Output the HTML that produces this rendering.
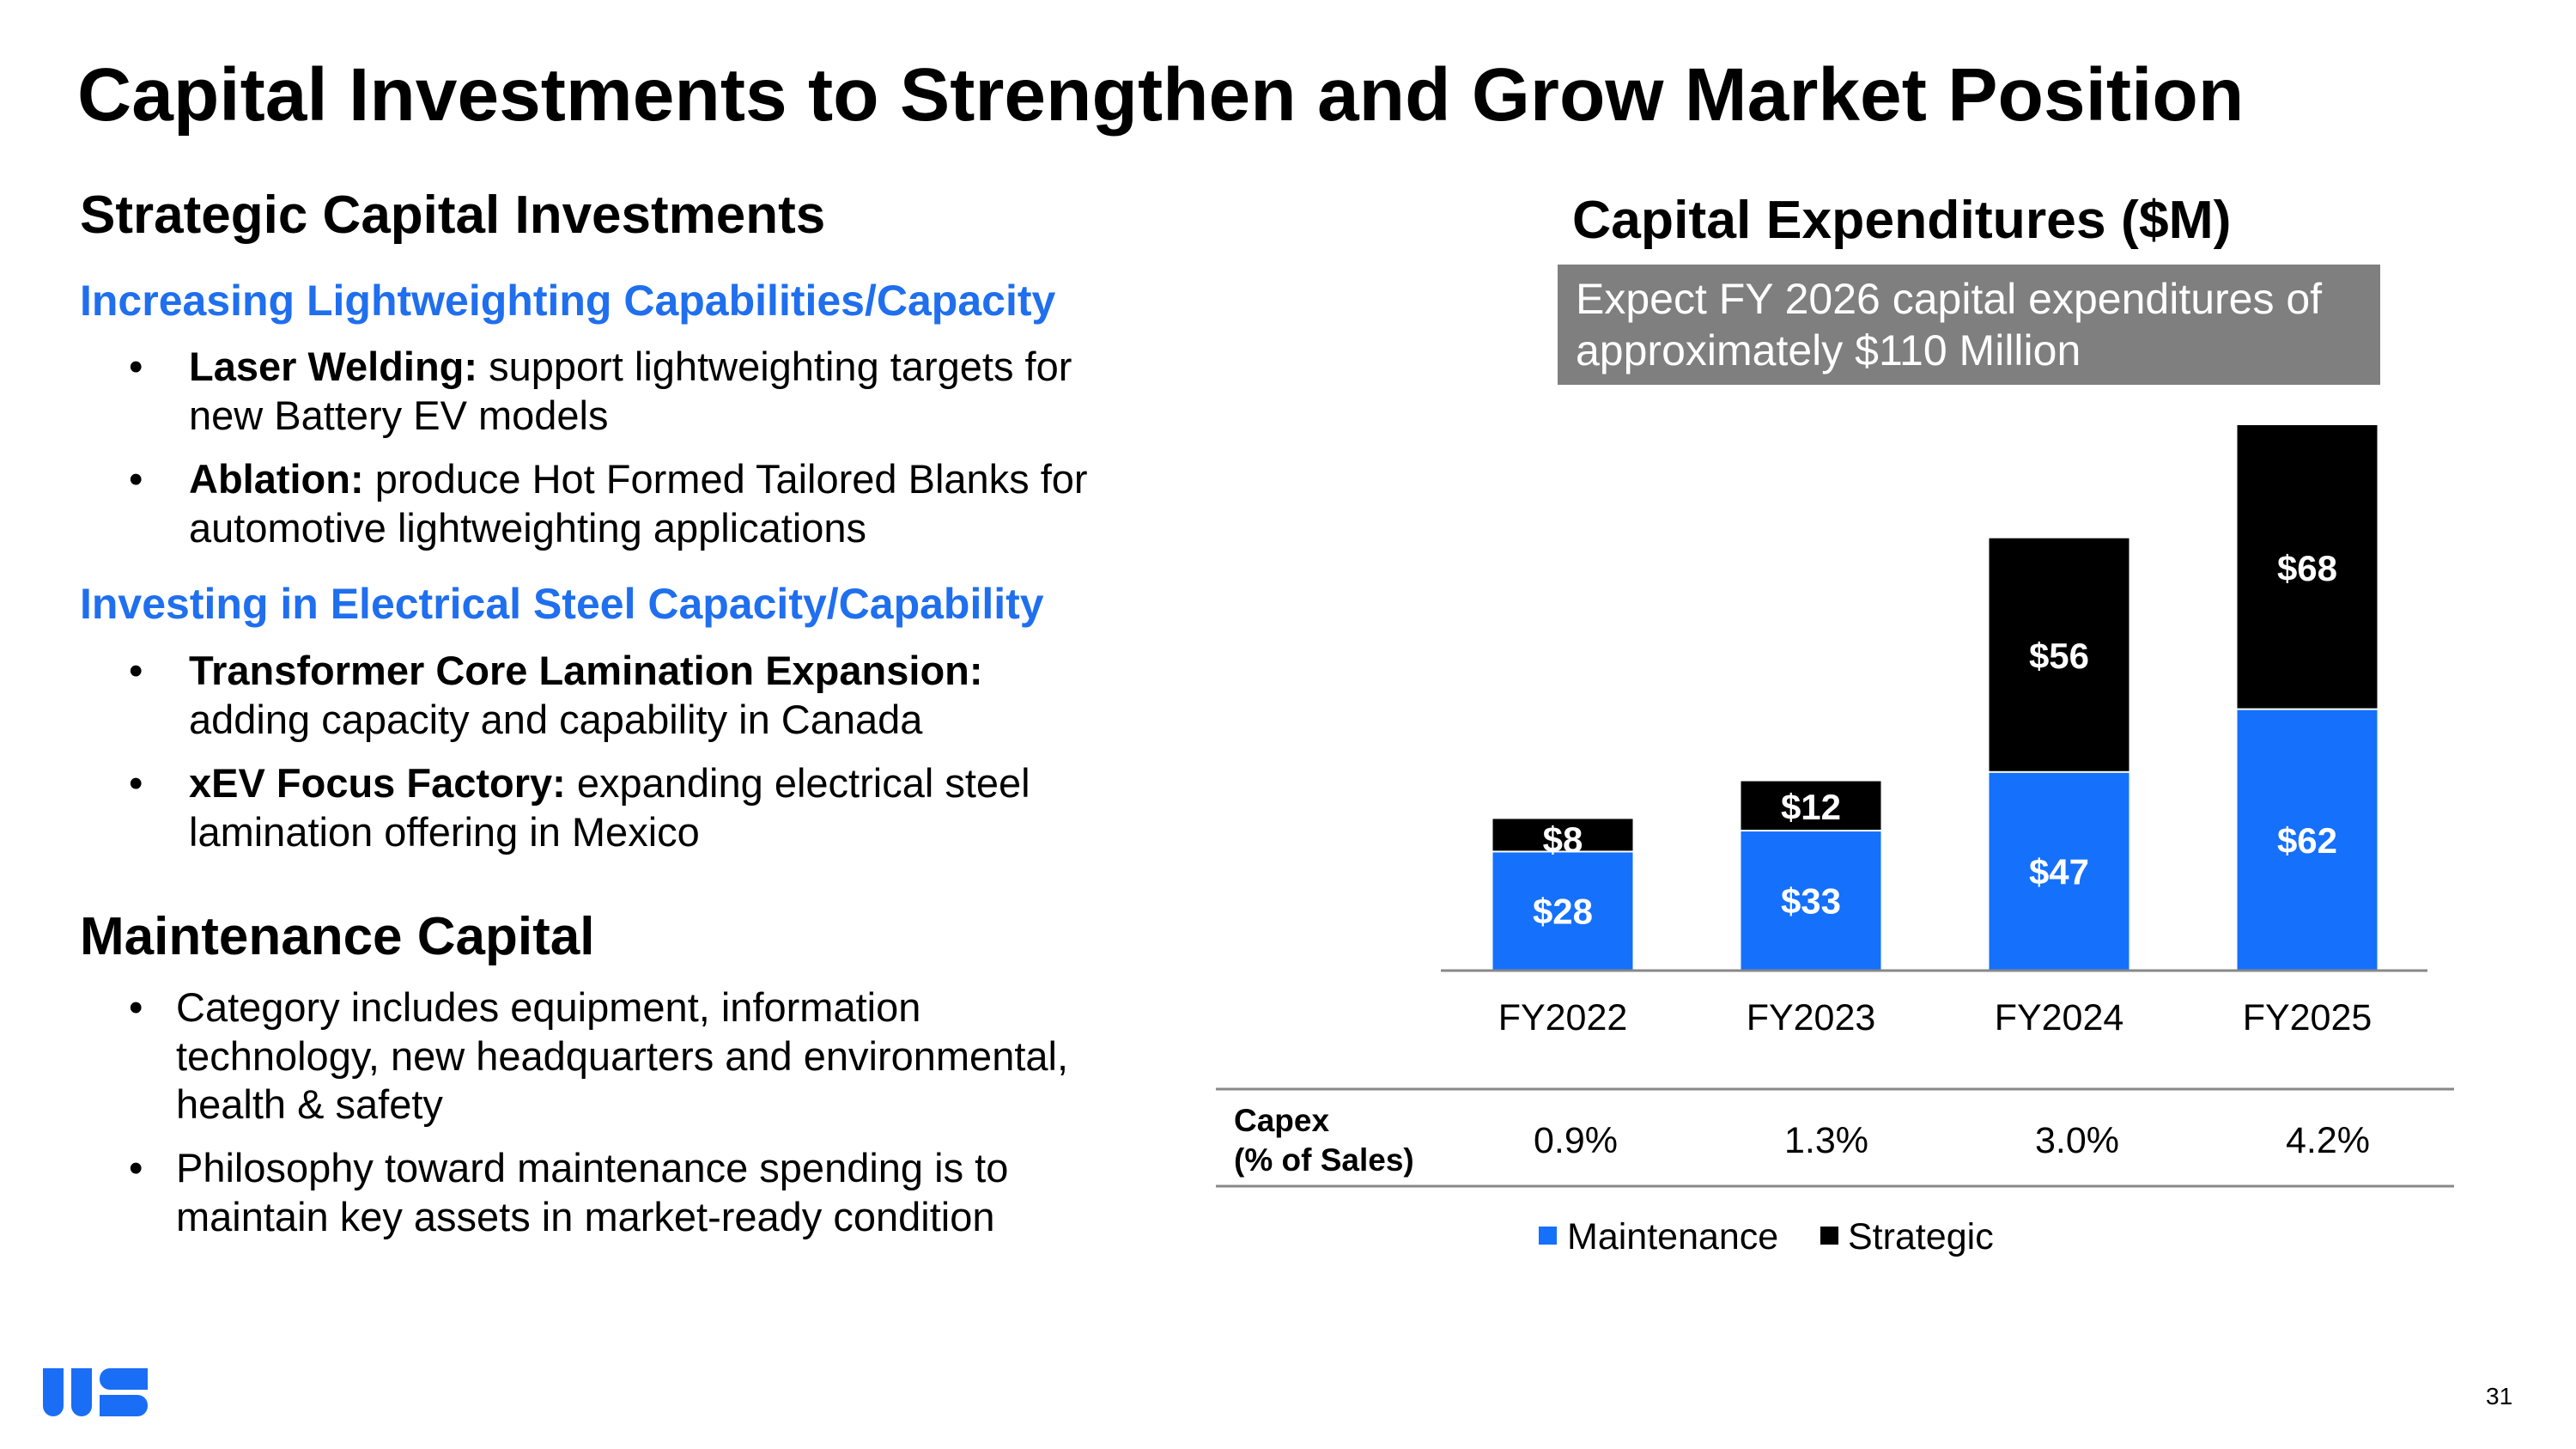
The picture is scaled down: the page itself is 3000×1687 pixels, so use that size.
<!DOCTYPE html>
<html><head><meta charset="utf-8"><style>
body{margin:0;width:3000px;height:1687px;background:#fff;position:relative;overflow:hidden;font-family:"Liberation Sans",Arial,sans-serif;color:#000}
.a{position:absolute;white-space:nowrap}
.t{font-size:47px;line-height:57px}
.blue{color:#1f6fee;font-weight:bold;font-size:50px}
.h{font-weight:bold;font-size:62px}
</style></head><body>
<div class="a" style="left:90px;top:60px;font-size:87.5px;font-weight:bold">Capital Investments to Strengthen and Grow Market Position</div>
<div class="a h" style="left:93px;top:215px">Strategic Capital Investments</div>
<div class="a blue" style="left:93px;top:321px">Increasing Lightweighting Capabilities/Capacity</div>
<div class="a t" style="left:150px;top:398px">•</div>
<div class="a t" style="left:220px;top:398px"><b>Laser Welding:</b> support lightweighting targets for<br>new Battery EV models</div>
<div class="a t" style="left:150px;top:529px">•</div>
<div class="a t" style="left:220px;top:529px"><b>Ablation:</b> produce Hot Formed Tailored Blanks for<br>automotive lightweighting applications</div>
<div class="a blue" style="left:93px;top:674px">Investing in Electrical Steel Capacity/Capability</div>
<div class="a t" style="left:150px;top:752px">•</div>
<div class="a t" style="left:220px;top:752px"><b>Transformer Core Lamination Expansion:</b><br>adding capacity and capability in Canada</div>
<div class="a t" style="left:150px;top:883px">•</div>
<div class="a t" style="left:220px;top:883px"><b>xEV Focus Factory:</b> expanding electrical steel<br>lamination offering in Mexico</div>
<div class="a h" style="left:93px;top:1055px">Maintenance Capital</div>
<div class="a t" style="left:150px;top:1145px;line-height:56.5px">•</div>
<div class="a t" style="left:205px;top:1145px;line-height:56.5px">Category includes equipment, information<br>technology, new headquarters and environmental,<br>health &amp; safety</div>
<div class="a t" style="left:150px;top:1332px;line-height:56.5px">•</div>
<div class="a t" style="left:205px;top:1332px;line-height:56.5px">Philosophy toward maintenance spending is to<br>maintain key assets in market-ready condition</div>
<div class="a h" style="left:1831px;top:220px;font-size:62.5px">Capital Expenditures ($M)</div>
<div class="a" style="left:1814px;top:308px;width:958px;height:140px;background:#7f7f7f;color:#fff;font-size:50px;line-height:60px;padding:10px 0 0 21px;box-sizing:border-box">Expect FY 2026 capital expenditures of<br>approximately $110 Million</div>
<svg class="a" style="left:0;top:0" width="3000" height="1687" id="chart"></svg>
<svg class="a" style="left:50px;top:1593px" width="130" height="58">
<rect x="0" y="0" width="24" height="56" rx="12" fill="#1a6ef5"/><rect x="0" y="0" width="24" height="30" fill="#1a6ef5"/>
<rect x="33" y="0" width="24" height="56" rx="12" fill="#1a6ef5"/><rect x="33" y="0" width="24" height="30" fill="#1a6ef5"/>
<rect x="66" y="0" width="56" height="25" rx="12" fill="#1a6ef5"/><rect x="78" y="0" width="44" height="25" fill="#1a6ef5"/>
<rect x="66" y="31" width="56" height="25" rx="12" fill="#1a6ef5"/><rect x="66" y="31" width="44" height="25" fill="#1a6ef5"/>
</svg>
<div class="a" style="left:2895px;top:1610px;font-size:28px">31</div>
<script>
const categories=["FY2022","FY2023","FY2024","FY2025"];
const maintenance=[28,33,47,62];
const strategic=[8,12,56,68];
const capexPct=["0.9%","1.3%","3.0%","4.2%"];
const svg=document.getElementById('chart');const NS="http://www.w3.org/2000/svg";
const base=1129,pxPer=4.877,x0=1820,step=289,bw=163;
const xC=i=>x0+i*step, yV=v=>base-v*pxPer;
function mk(t,a,txt){const e=document.createElementNS(NS,t);for(const k in a)e.setAttribute(k,a[k]);if(txt!==undefined)e.textContent=txt;svg.appendChild(e);return e;}
categories.forEach((c,i)=>{
 const m=maintenance[i],s=strategic[i];
 let r=mk('rect',{x:xC(i)-bw/2,y:yV(m),width:bw,height:m*pxPer,fill:'#1570fb'});
 
 
 r=mk('rect',{x:xC(i)-bw/2,y:yV(m+s),width:bw,height:s*pxPer-2,fill:'#000'});
 
 
 let t=mk('text',{x:xC(i),y:yV(m/2)+15,'text-anchor':'middle','font-size':42,'font-weight':'bold',fill:'#fff'},'$'+m);
 
 
 t=mk('text',{x:xC(i),y:yV(m+s/2)+15+(s<10?4:0),'text-anchor':'middle','font-size':42,'font-weight':'bold',fill:'#fff'},'$'+s);
 
 
 t=mk('text',{x:xC(i),y:1199,'text-anchor':'middle','font-size':43},c);
 
 
 t=mk('text',{x:1835+i*292,y:1342,'text-anchor':'middle','font-size':43},capexPct[i]);
 
 
});
let l=mk('line',{x1:1678,x2:2827,y1:base+1,y2:base+1,stroke:'#888','stroke-width':3});


[1268,1381].forEach((y,k)=>{const e=mk('line',{x1:1416,x2:2858,y1:y,y2:y,stroke:'#888','stroke-width':3});

});
let c1=mk('text',{x:1437,y:1317,'font-size':37,'font-weight':'bold'},'Capex');


let c2=mk('text',{x:1437,y:1363,'font-size':37,'font-weight':'bold'},'(% of Sales)');


let s1=mk('rect',{x:1792,y:1428,width:21,height:21,fill:'#1570fb'});


let lt1=mk('text',{x:1825,y:1454,'font-size':43},'Maintenance');


let s2=mk('rect',{x:2120,y:1428,width:21,height:21,fill:'#000'});


let lt2=mk('text',{x:2152,y:1454,'font-size':43},'Strategic');


</script>
</body></html>
